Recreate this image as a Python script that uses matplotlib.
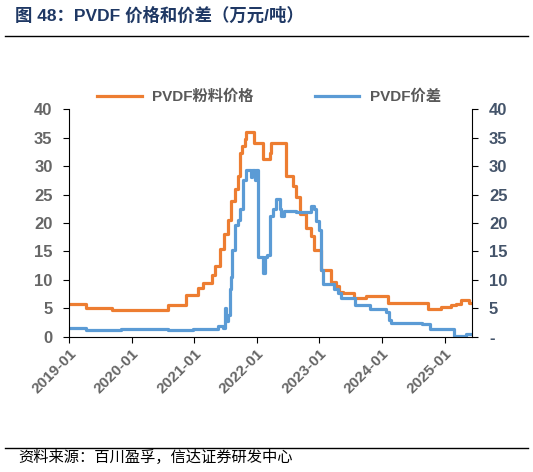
import pandas as pd
import matplotlib
import matplotlib.pyplot as plt
import matplotlib.dates as mdates

matplotlib.use("Agg")

plt.rcParams["font.family"] = ["Liberation Sans", "Noto Sans CJK SC"]

# PVDF粉料价格 (万元/吨), weekly step changes
price_dates = [
    "2019-01-01", "2019-04-08", "2019-09-05", "2020-08-01", "2020-11-15",
    "2021-01-20", "2021-02-20", "2021-04-15", "2021-05-01", "2021-06-01",
    "2021-06-20", "2021-07-15", "2021-08-01", "2021-08-25", "2021-09-12",
    "2021-09-25", "2021-10-08", "2021-10-22", "2021-10-30", "2021-12-15",
    "2022-02-05", "2022-03-18", "2022-03-25", "2022-06-20", "2022-07-30",
    "2022-08-18", "2022-09-10", "2022-10-15", "2022-11-15", "2022-12-01",
    "2023-01-08", "2023-03-10", "2023-04-08", "2023-04-25", "2023-05-18",
    "2023-07-22", "2023-10-01", "2024-02-06", "2024-09-25", "2024-12-10",
    "2025-02-10", "2025-03-08", "2025-04-08", "2025-05-25", "2025-06-12",
]
price_vals = [
    5.7, 5.0, 4.75, 5.5, 7.4,
    8.6, 9.4, 10.9, 12.5, 15.5,
    18.0, 20.6, 23.8, 25.9, 28.2,
    32.3, 33.5, 34.7, 36.0, 34.1,
    31.2, 32.3, 34.1, 28.2, 26.5,
    24.5, 21.5, 19.1, 17.7, 15.3,
    11.8, 9.7, 8.9, 7.8, 7.6,
    6.8, 7.1, 6.0, 4.9, 5.3,
    5.6, 5.8, 6.4, 6.0, 6.0,
]

# PVDF价差 (万元/吨)
spread_dates = [
    "2019-01-01", "2019-04-08", "2019-11-01", "2020-08-01", "2020-12-25",
    "2021-05-20", "2021-06-17", "2021-06-28", "2021-07-05", "2021-07-15",
    "2021-07-25", "2021-08-01", "2021-08-10", "2021-08-25", "2021-09-12",
    "2021-09-25", "2021-10-12", "2021-10-30", "2021-11-25", "2021-12-01",
    "2021-12-20", "2021-12-27", "2022-01-08", "2022-02-05", "2022-02-15",
    "2022-03-01", "2022-03-18", "2022-04-05", "2022-04-22", "2022-05-15",
    "2022-05-22", "2022-06-10", "2022-08-18", "2022-11-15", "2022-12-01",
    "2022-12-12", "2022-12-30", "2023-01-12", "2023-01-22", "2023-03-28",
    "2023-04-20", "2023-05-08", "2023-07-28", "2023-10-25", "2024-01-25",
    "2024-02-10", "2024-02-25", "2024-08-20", "2024-10-10", "2025-02-28",
    "2025-05-05", "2025-06-12",
]
spread_vals = [
    1.5, 1.2, 1.4, 1.2, 1.4,
    1.9, 1.5, 5.0, 2.7, 3.9,
    8.3, 10.5, 15.3, 19.7, 20.6,
    22.4, 27.6, 29.4, 28.0, 29.4,
    27.5, 29.4, 14.1, 11.2, 14.1,
    14.3, 21.2, 22.4, 24.2, 22.4,
    21.2, 22.1, 22.0, 23.0, 22.5,
    20.3, 18.8, 11.8, 9.2, 8.3,
    7.6, 6.8, 5.6, 4.9, 4.3,
    3.0, 2.4, 2.2, 1.4, 0.2,
    0.5, 0.5,
]

left_ticks = [0, 5, 10, 15, 20, 25, 30, 35, 40]
right_labels = ["-", "5", "10", "15", "20", "25", "30", "35", "40"]

orange = "#ED7D31"
blue = "#5B9BD5"
gray = "#666666"
slate = "#44546A"

fig = plt.figure(figsize=(5.33, 4.72), dpi=100)
ax = fig.add_axes([0.130, 0.2867, 0.756, 0.4818])

ax.plot(pd.to_datetime(price_dates), price_vals, drawstyle="steps-post",
        color=orange, lw=2.3, label="PVDF粉料价格")
ax.plot(pd.to_datetime(spread_dates), spread_vals, drawstyle="steps-post",
        color=blue, lw=2.3, label="PVDF价差")

ax.set_xlim(pd.Timestamp("2019-01-01"), pd.Timestamp("2025-06-12"))
ax.set_ylim(0, 40)
ax.set_yticks(left_ticks)
ax.xaxis.set_major_locator(mdates.YearLocator())
ax.xaxis.set_major_formatter(mdates.DateFormatter("%Y-%m"))

for s in ["top", "right"]:
    ax.spines[s].set_visible(False)
ax.tick_params(axis="y", length=4, colors="black", labelcolor=gray,
               labelsize=12, pad=8)
ax.tick_params(axis="x", length=4, colors="black", labelcolor=gray,
               labelsize=11, pad=3)
for lab in ax.get_yticklabels():
    lab.set_fontweight("bold")
for lab in ax.get_xticklabels():
    lab.set_fontweight("bold")
    lab.set_rotation(45)
    lab.set_ha("right")
    lab.set_rotation_mode("anchor")

ax2 = ax.twinx()
ax2.set_ylim(0, 40)
ax2.set_yticks(left_ticks)
ax2.set_yticklabels(right_labels, fontweight="bold")
ax2.tick_params(axis="y", length=4, colors="black", labelcolor=slate,
                labelsize=12, pad=8)
for s in ["top", "left", "bottom"]:
    ax2.spines[s].set_visible(False)

leg = fig.legend(loc="center", bbox_to_anchor=(0.505, 0.795), ncol=2,
                 frameon=False, handlelength=2.9, handletextpad=0.7,
                 columnspacing=4.0, prop={"weight": "bold", "size": 11})
for t in leg.get_texts():
    t.set_color("#595959")

fig.text(0.028, 0.968, "图 48：PVDF 价格和价差（万元/吨）", color="#1F3864",
         fontsize=12.5, fontweight="bold", va="center", ha="left")
fig.add_artist(plt.Line2D([0.01, 0.99], [0.924, 0.924], color="black", lw=1,
                          transform=fig.transFigure))
fig.add_artist(plt.Line2D([0.01, 0.99], [0.051, 0.051], color="black", lw=1,
                          transform=fig.transFigure))
fig.text(0.034, 0.030, "资料来源：百川盈孚，信达证券研发中心", color="black",
         fontsize=11, va="center", ha="left", style="italic")

fig.savefig("out.png", dpi=100)
